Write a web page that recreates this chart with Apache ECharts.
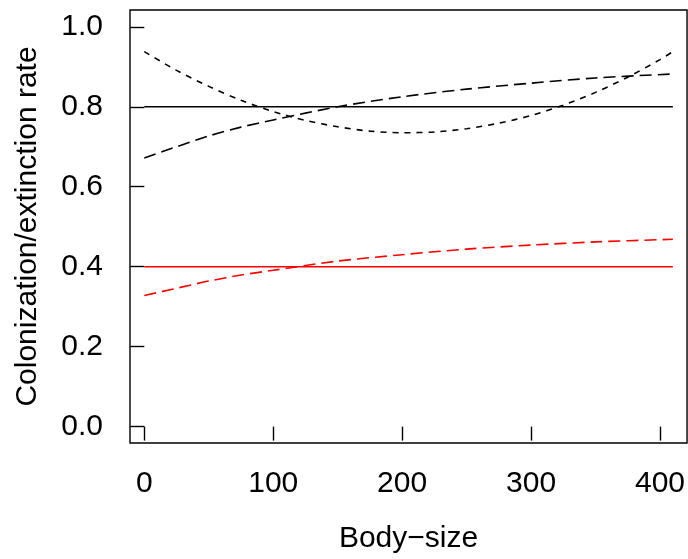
<!DOCTYPE html>
<html>
<head>
<meta charset="utf-8">
<script src="https://cdn.jsdelivr.net/npm/echarts@6/dist/echarts.min.js"></script>
<style>html,body{margin:0;padding:0;background:#fff}#c{width:688px;height:559px}</style>
</head>
<body>
<div id="c"></div>
<script>
// Data
const xTicks = [0, 100, 200, 300, 400];
const yTicks = [0, 0.2, 0.4, 0.6, 0.8, 1.0];

const flatX = [0, 410];
const blackSolid = [0.8, 0.8];
const redSolid = [0.4, 0.4];

const colX = [0, 25, 50, 75, 100, 150, 200, 250, 300, 350, 410];
const blackLongDash = [0.672, 0.700, 0.727, 0.749, 0.767, 0.800, 0.825, 0.844, 0.859, 0.872, 0.882];
const redDash = [0.328, 0.346, 0.364, 0.379, 0.391, 0.414, 0.430, 0.444, 0.454, 0.462, 0.4685];

const uX = [0, 25, 50, 75, 100, 125, 150, 175, 200, 225, 250, 275, 300, 325, 350, 375, 400, 410];
const blackShortDash = [0.938, 0.891, 0.851, 0.816, 0.788, 0.766, 0.750, 0.739, 0.735, 0.737, 0.745, 0.759, 0.778, 0.804, 0.836, 0.874, 0.918, 0.938];

const pairs = (xs, ys) => xs.map((x, i) => [x, ys[i]]);

const FONT = 'Liberation Sans';
const FS = 30;
const chart = echarts.init(document.getElementById('c'), null, {renderer: 'canvas'});
const mk = (name, xs, ys, color, type) => ({
  name, type: 'line', data: pairs(xs, ys), showSymbol: false, smooth: 0.3,
  lineStyle: {color, width: 1.6, type, cap: 'butt'}, silent: true, z: 3
});
chart.setOption({
  animation: false,
  backgroundColor: '#fff',
  grid: {left: 130, top: 10, right: -2, bottom: 116, show: true, borderColor: '#000', borderWidth: 1.4, containLabel: false},
  xAxis: {
    type: 'value', min: -11.1, max: 421,
    name: 'Body\u2212size', nameLocation: 'middle', nameGap: 81,
    nameTextStyle: {fontFamily: FONT, fontSize: FS, color: '#000'},
    axisLine: {show: false},
    splitLine: {show: false},
    axisTick: {show: true, length: 14, inside: false, customValues: xTicks, lineStyle: {color: '#000', width: 1.4}},
    axisLabel: {customValues: xTicks, margin: 26, fontFamily: FONT, fontSize: FS, color: '#000'}
  },
  yAxis: {
    type: 'value', min: -0.041, max: 1.042,
    name: 'Colonization/extinction rate', nameLocation: 'middle', nameGap: 87, nameRotate: 90,
    nameTextStyle: {fontFamily: FONT, fontSize: FS, color: '#000'},
    axisLine: {show: false},
    splitLine: {show: false},
    axisTick: {show: true, length: 14, inside: false, customValues: yTicks, lineStyle: {color: '#000', width: 1.4}},
    axisLabel: {customValues: yTicks, margin: 27, fontFamily: FONT, fontSize: FS, color: '#000',
      formatter: v => v.toFixed(1)}
  },
  series: [
    mk('black solid', flatX, blackSolid, '#000', 'solid'),
    mk('red solid', flatX, redSolid, '#ff0000', 'solid'),
    mk('black long dash', colX, blackLongDash, '#000', [12, 6]),
    mk('black short dash', uX, blackShortDash, '#000', [6, 6]),
    mk('red dash', colX, redDash, '#ff0000', [12, 6])
  ]
});
</script>
</body>
</html>
